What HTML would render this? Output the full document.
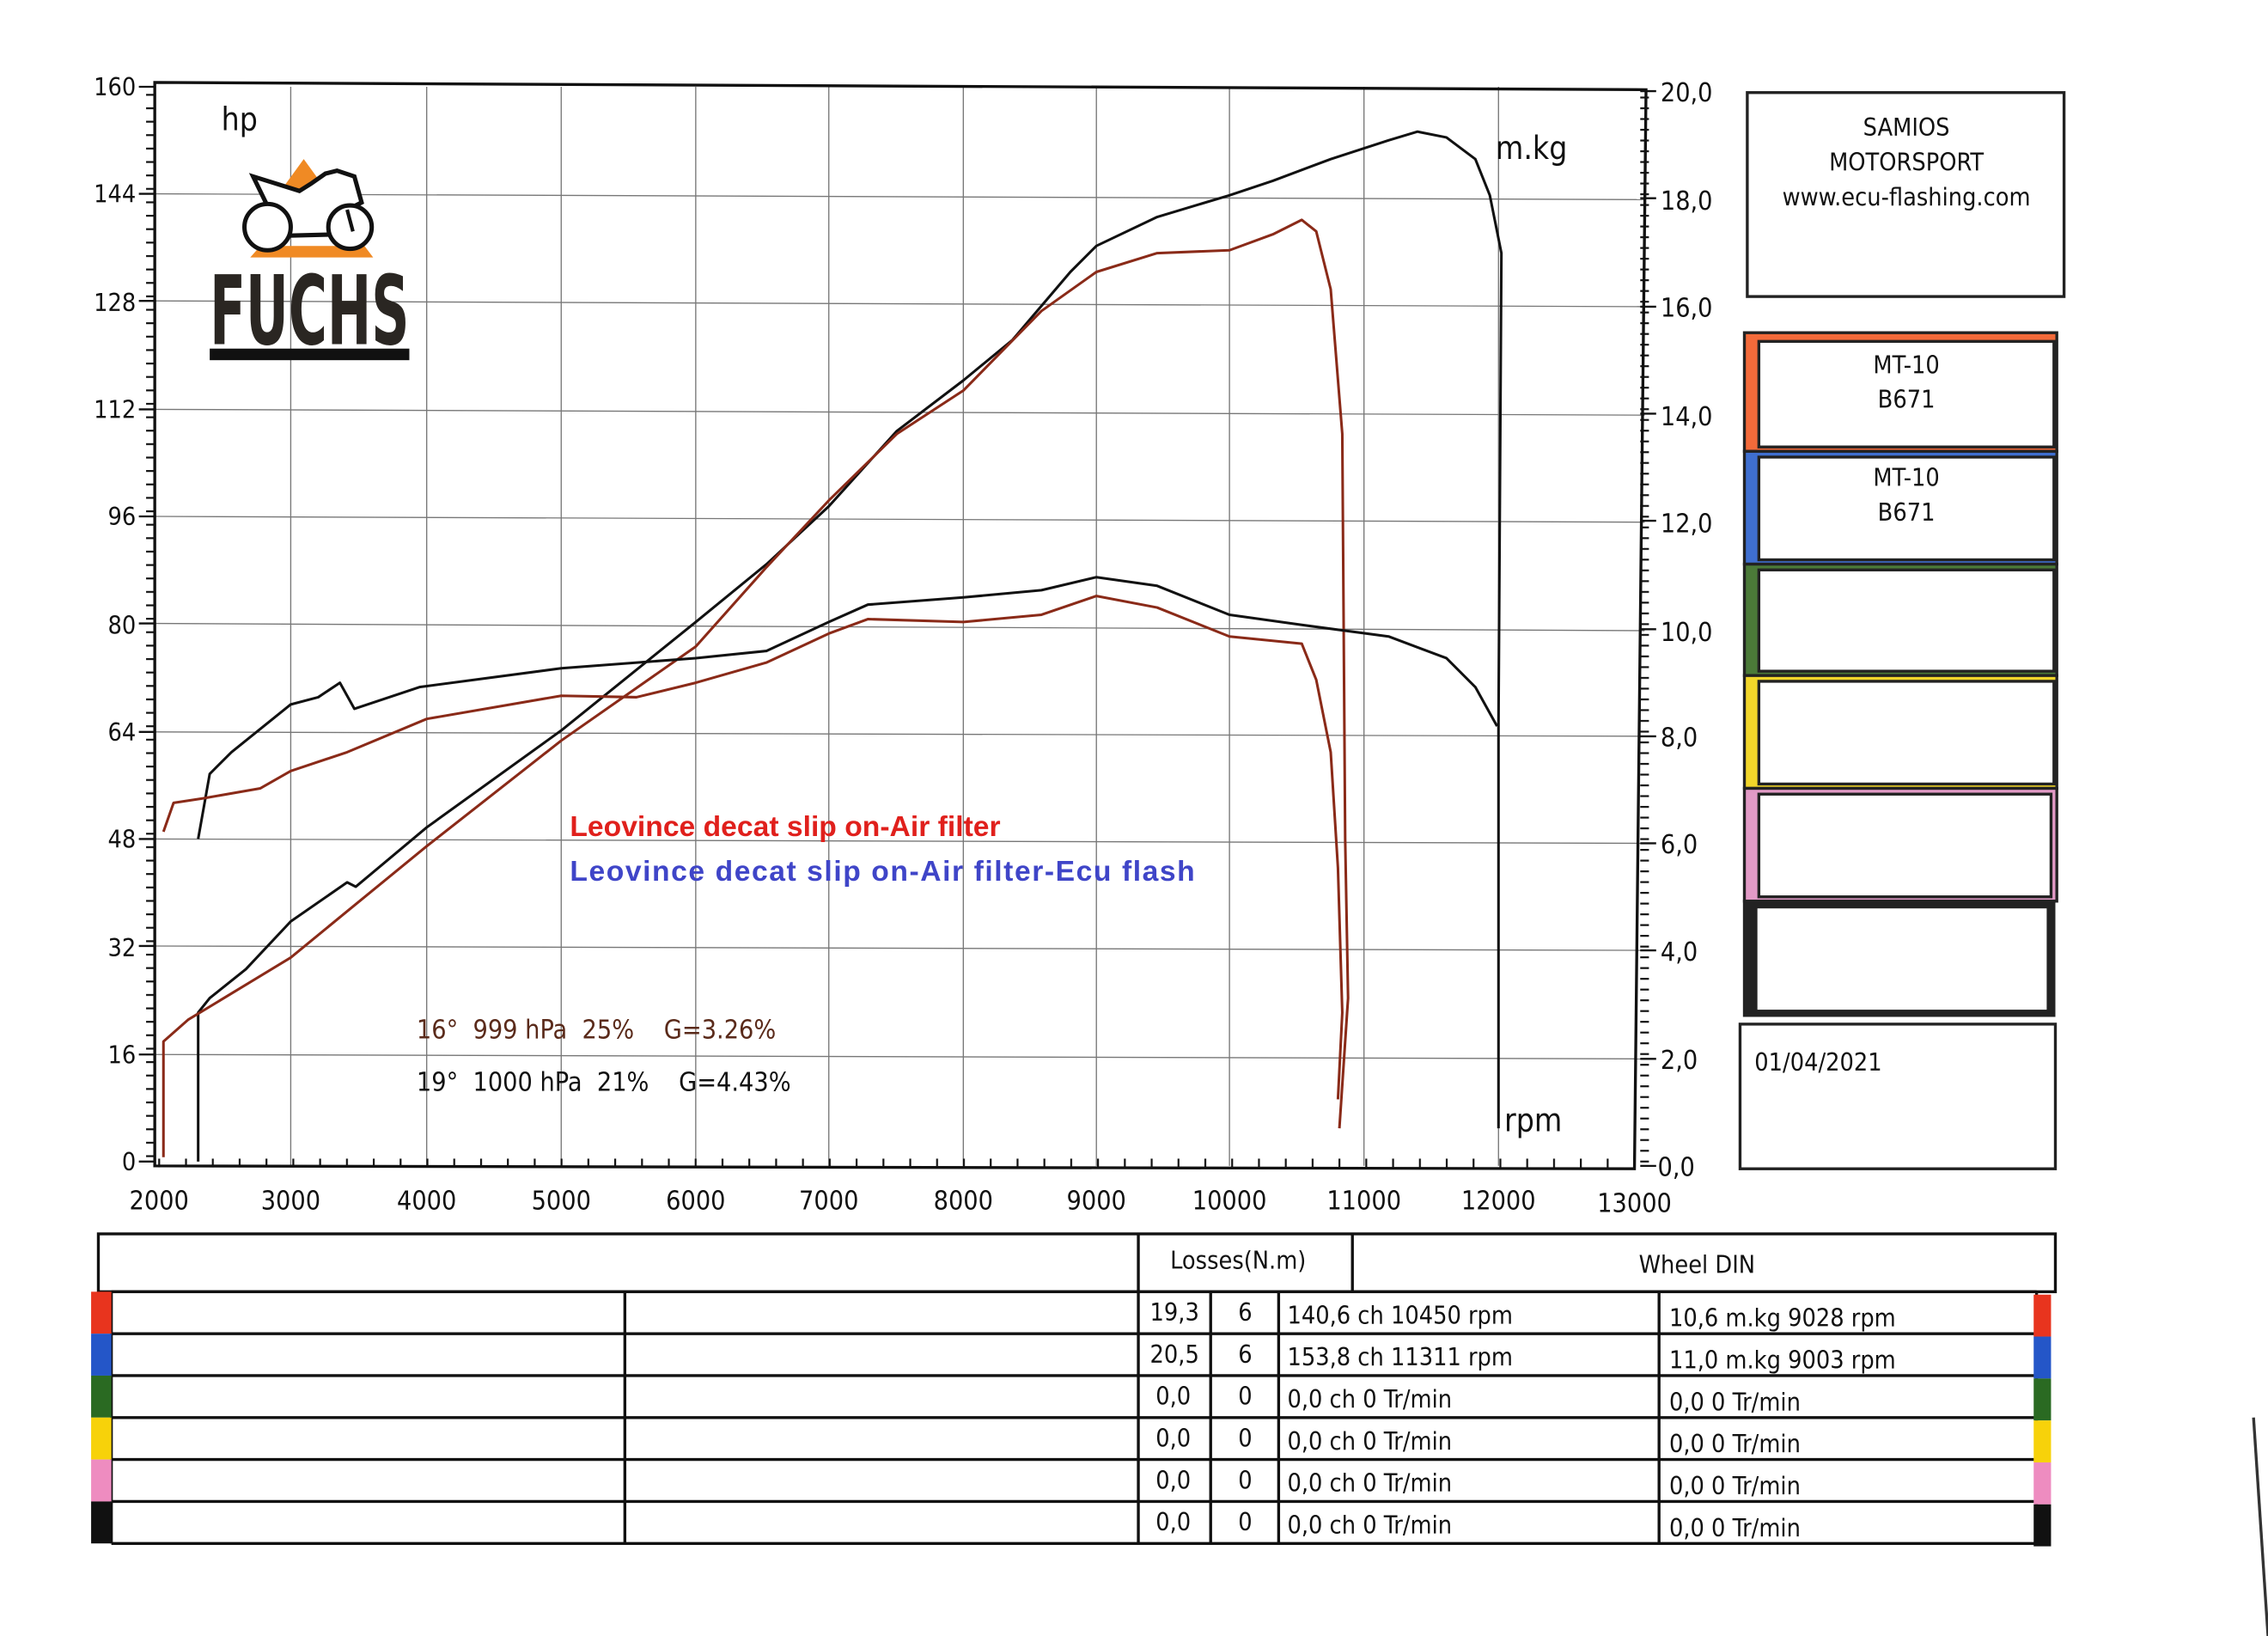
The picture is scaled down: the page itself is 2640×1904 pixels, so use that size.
<!DOCTYPE html>
<html><head><meta charset="utf-8"><style>
html,body{margin:0;padding:0;background:#fff}
svg{display:block}
text{font-family:"DejaVu Sans Condensed","Liberation Sans",sans-serif;fill:#111}
</style></head><body>
<svg width="2640" height="1904" viewBox="0 0 1568 1131" preserveAspectRatio="none" xmlns="http://www.w3.org/2000/svg">
<defs>
<pattern id="pl" x="0" y="-0.1" width="20" height="9.2875" patternUnits="userSpaceOnUse"><rect x="0" y="0" width="20" height="1.3" fill="#111"/></pattern>
<pattern id="pr" x="0" y="-0.1" width="20" height="7.43" patternUnits="userSpaceOnUse"><rect x="0" y="0" width="20" height="1.3" fill="#111"/></pattern>
<pattern id="pb" x="109.4" y="0" width="18.545" height="20" patternUnits="userSpaceOnUse"><rect x="0" y="0" width="1.3" height="20" fill="#111"/></pattern>
</defs>
<rect width="1568" height="1131" fill="#fff"/>
<!-- grid -->
<g stroke="#777" stroke-width="0.8">
<line x1="201" y1="60" x2="201" y2="806"/><line x1="295" y1="60" x2="295" y2="806"/>
<line x1="388" y1="60" x2="388" y2="806"/><line x1="481" y1="60" x2="481" y2="806"/>
<line x1="573" y1="60" x2="573" y2="806"/><line x1="666" y1="60" x2="666" y2="806"/>
<line x1="758" y1="60" x2="758" y2="806"/><line x1="850" y1="60" x2="850" y2="806"/>
<line x1="943" y1="60" x2="943" y2="806"/><line x1="1036" y1="60" x2="1036" y2="806"/>
<line x1="107" y1="134" x2="1137" y2="138"/><line x1="107" y1="208" x2="1137" y2="212"/>
<line x1="107" y1="283" x2="1137" y2="287"/><line x1="107" y1="357" x2="1137" y2="361"/>
<line x1="107" y1="431" x2="1137" y2="436"/><line x1="107" y1="506" x2="1137" y2="509"/>
<line x1="107" y1="580" x2="1137" y2="583"/><line x1="107" y1="654" x2="1137" y2="657"/>
<line x1="107" y1="729" x2="1137" y2="732"/>
</g>
<!-- ticks -->
<rect x="101" y="60" width="6" height="745" fill="url(#pl)"/>
<rect x="1134" y="63" width="6" height="745" fill="url(#pr)"/>
<rect x="109" y="801" width="1022" height="6" fill="url(#pb)"/>
<g stroke="#111" stroke-width="1.4">
<line x1="96" y1="60" x2="107" y2="60"/><line x1="96" y1="134" x2="107" y2="134"/><line x1="96" y1="208" x2="107" y2="208"/>
<line x1="96" y1="283" x2="107" y2="283"/><line x1="96" y1="357" x2="107" y2="357"/><line x1="96" y1="431" x2="107" y2="431"/>
<line x1="96" y1="506" x2="107" y2="506"/><line x1="96" y1="580" x2="107" y2="580"/><line x1="96" y1="654" x2="107" y2="654"/>
<line x1="96" y1="729" x2="107" y2="729"/><line x1="96" y1="803" x2="107" y2="803"/>
<line x1="1134" y1="63" x2="1145" y2="63"/><line x1="1134" y1="137" x2="1145" y2="137"/><line x1="1134" y1="212" x2="1145" y2="212"/>
<line x1="1134" y1="286" x2="1145" y2="286"/><line x1="1134" y1="360" x2="1145" y2="360"/><line x1="1134" y1="435" x2="1145" y2="435"/>
<line x1="1134" y1="509" x2="1145" y2="509"/><line x1="1134" y1="583" x2="1145" y2="583"/><line x1="1134" y1="657" x2="1145" y2="657"/>
<line x1="1134" y1="732" x2="1145" y2="732"/><line x1="1134" y1="806" x2="1145" y2="806"/>
</g>
<!-- frame -->
<path d="M107 57 L1138 62 L1130 808 L107 806 Z" fill="none" stroke="#111" stroke-width="2"/>
<!-- left labels -->
<g font-size="17" text-anchor="end">
<text x="94" y="66">160</text><text x="94" y="140">144</text><text x="94" y="215">128</text>
<text x="94" y="289">112</text><text x="94" y="363">96</text><text x="94" y="438">80</text>
<text x="94" y="512">64</text><text x="94" y="586">48</text><text x="94" y="661">32</text>
<text x="94" y="735">16</text><text x="94" y="809">0</text>
</g>
<g font-size="18">
<text x="1148" y="70">20,0</text><text x="1148" y="145">18,0</text><text x="1148" y="219">16,0</text>
<text x="1148" y="294">14,0</text><text x="1148" y="368">12,0</text><text x="1148" y="443">10,0</text>
<text x="1148" y="516">8,0</text><text x="1148" y="590">6,0</text><text x="1148" y="664">4,0</text>
<text x="1148" y="739">2,0</text><text x="1146" y="813">0,0</text>
</g>
<g font-size="18" text-anchor="middle">
<text x="110" y="836">2000</text><text x="201" y="836">3000</text><text x="295" y="836">4000</text>
<text x="388" y="836">5000</text><text x="481" y="836">6000</text><text x="573" y="836">7000</text>
<text x="666" y="836">8000</text><text x="758" y="836">9000</text><text x="850" y="836">10000</text>
<text x="943" y="836">11000</text><text x="1036" y="836">12000</text><text x="1130" y="838">13000</text>
</g>
<text x="153" y="90" font-size="22">hp</text>
<text x="1034" y="110" font-size="22">m.kg</text>
<text x="1040" y="782" font-size="22">rpm</text>
<!-- logo -->
<polygon points="210,110 226,132 194,132" fill="#f08a24"/>
<polygon points="173,178 258,178 252,170 180,170" fill="#f08a24"/>
<path d="M175 122 L207 132 L215 127 L225 120 L233 118 L245 122 L250 140 L240 145 L235 162 L195 163 Z" fill="#fff" stroke="#111" stroke-width="3"/>
<circle cx="185" cy="157" r="16" fill="#fff" stroke="#111" stroke-width="3"/>
<circle cx="242" cy="157" r="15" fill="#fff" stroke="#111" stroke-width="3"/>
<line x1="240" y1="145" x2="244" y2="160" stroke="#111" stroke-width="2.5"/>
<text x="214" y="238" font-size="66" font-weight="bold" text-anchor="middle" textLength="138" lengthAdjust="spacingAndGlyphs" style="fill:#2a2622;font-family:'DejaVu Sans Condensed','Liberation Sans Narrow',sans-serif">FUCHS</text>
<rect x="145" y="241" width="138" height="8" fill="#111"/>
<!-- curves -->
<g fill="none" stroke-width="1.8" stroke-linejoin="round">
<polyline stroke="#111" points="137,803 137,700 145,690 170,670 201,637 240,610 246,613 295,572 388,505 481,430 530,390 573,350 620,298 666,263 700,235 740,188 758,170 800,150 850,135 880,125 920,110 960,97 980,91 1000,95 1020,110 1030,135 1038,175 1036,500 1036,780"/>
<polyline stroke="#8a2a18" points="113,800 113,720 130,705 201,662 240,630 295,585 388,512 481,447 530,392 573,346 620,300 666,270 720,215 758,188 800,175 850,173 880,162 900,152 910,160 920,200 928,300 930,580 932,690 926,780"/>
<polyline stroke="#111" points="137,580 145,535 160,520 201,487 220,482 235,472 245,490 290,475 388,462 481,455 530,450 573,430 600,418 666,413 720,408 758,399 800,405 850,425 900,432 960,440 1000,455 1020,475 1035,502"/>
<polyline stroke="#8a2a18" points="113,575 120,555 140,552 180,545 201,533 240,520 295,497 388,481 440,482 481,472 530,458 573,438 600,428 666,430 720,425 758,412 800,420 850,440 900,445 910,470 920,520 925,600 928,700 925,760"/>
</g>
<text x="394" y="578" font-size="20" font-weight="bold" style="fill:#e0201c;font-family:'Liberation Sans',sans-serif">Leovince decat slip on-Air filter</text>
<text x="394" y="609" font-size="20" font-weight="bold" textLength="432" style="fill:#3f45c8;font-family:'Liberation Sans',sans-serif">Leovince decat slip on-Air filter-Ecu flash</text>
<text x="288" y="718" font-size="18" xml:space="preserve" style="fill:#5a2a1a">16°  999 hPa  25%    G=3.26%</text>
<text x="288" y="754" font-size="18" xml:space="preserve">19°  1000 hPa  21%    G=4.43%</text>
<!-- right boxes -->
<rect x="1208" y="64" width="219" height="141" fill="none" stroke="#222" stroke-width="2"/>
<g font-size="17" text-anchor="middle"><text x="1318" y="94">SAMIOS</text><text x="1318" y="118">MOTORSPORT</text><text x="1318" y="142">www.ecu-flashing.com</text></g>
<g stroke="#222" stroke-width="2">
<rect x="1206" y="230" width="216" height="82" fill="#f36a3a"/><rect x="1216" y="236" width="204" height="73" fill="#fff"/>
<rect x="1206" y="312" width="216" height="78" fill="#3f6fd0"/><rect x="1216" y="316" width="204" height="71" fill="#fff"/>
<rect x="1206" y="390" width="216" height="77" fill="#4b7a38"/><rect x="1216" y="394" width="204" height="70" fill="#fff"/>
<rect x="1206" y="467" width="216" height="78" fill="#f2d62a"/><rect x="1216" y="471" width="204" height="71" fill="#fff"/>
<rect x="1206" y="545" width="216" height="78" fill="#e29ac6"/><rect x="1216" y="549" width="202" height="71" fill="#fff"/>
<rect x="1206" y="623" width="214" height="79" fill="#222"/><rect x="1214" y="627" width="202" height="72" fill="#fff"/>
</g>
<g font-size="17" text-anchor="middle"><text x="1318" y="258">MT-10</text><text x="1318" y="282">B671</text><text x="1318" y="336">MT-10</text><text x="1318" y="360">B671</text></g>
<rect x="1203" y="708" width="218" height="100" fill="none" stroke="#222" stroke-width="2"/>
<text x="1213" y="740" font-size="17">01/04/2021</text>
<!-- table -->
<g stroke="#111" stroke-width="2" fill="none">
<rect x="68" y="853" width="1353" height="40"/>
<line x1="787" y1="853" x2="787" y2="1068"/><line x1="935" y1="853" x2="935" y2="893"/>
<line x1="77" y1="893" x2="1408" y2="893"/>
<line x1="77" y1="922" x2="1408" y2="922"/><line x1="77" y1="951" x2="1408" y2="951"/>
<line x1="77" y1="980" x2="1408" y2="980"/><line x1="77" y1="1009" x2="1408" y2="1009"/>
<line x1="77" y1="1038" x2="1408" y2="1038"/><line x1="77" y1="1067" x2="1408" y2="1067"/>
<line x1="77" y1="893" x2="77" y2="1067"/><line x1="432" y1="893" x2="432" y2="1067"/>
<line x1="837" y1="893" x2="837" y2="1067"/><line x1="884" y1="893" x2="884" y2="1067"/>
<line x1="1147" y1="893" x2="1147" y2="1067"/><line x1="1408" y1="893" x2="1408" y2="1067"/>
</g>
<g>
<rect x="63" y="893" width="14" height="29" fill="#e8341e"/><rect x="63" y="922" width="14" height="29" fill="#2456c8"/>
<rect x="63" y="951" width="14" height="29" fill="#2a6a22"/><rect x="63" y="980" width="14" height="29" fill="#f7d20a"/>
<rect x="63" y="1009" width="14" height="29" fill="#ee8cc0"/><rect x="63" y="1038" width="14" height="29" fill="#111"/>
<rect x="1406" y="895" width="12" height="29" fill="#e8341e"/><rect x="1406" y="924" width="12" height="29" fill="#2456c8"/>
<rect x="1406" y="953" width="12" height="29" fill="#2a6a22"/><rect x="1406" y="982" width="12" height="29" fill="#f7d20a"/>
<rect x="1406" y="1011" width="12" height="29" fill="#ee8cc0"/><rect x="1406" y="1040" width="12" height="29" fill="#111"/>
</g>
<g font-size="17" xml:space="preserve">
<text x="809" y="877">Losses(N.m)</text><text x="1133" y="880">Wheel DIN</text>
<text x="795" y="913">19,3</text><text x="856" y="913">6</text><text x="890" y="915">140,6 ch 10450 rpm</text><text x="1154" y="917">10,6 m.kg 9028 rpm</text>
<text x="795" y="942">20,5</text><text x="856" y="942">6</text><text x="890" y="944">153,8 ch 11311 rpm</text><text x="1154" y="946">11,0 m.kg 9003 rpm</text>
<text x="799" y="971">0,0</text><text x="856" y="971">0</text><text x="890" y="973">0,0 ch 0 Tr/min</text><text x="1154" y="975">0,0  0 Tr/min</text>
<text x="799" y="1000">0,0</text><text x="856" y="1000">0</text><text x="890" y="1002">0,0 ch 0 Tr/min</text><text x="1154" y="1004">0,0  0 Tr/min</text>
<text x="799" y="1029">0,0</text><text x="856" y="1029">0</text><text x="890" y="1031">0,0 ch 0 Tr/min</text><text x="1154" y="1033">0,0  0 Tr/min</text>
<text x="799" y="1058">0,0</text><text x="856" y="1058">0</text><text x="890" y="1060">0,0 ch 0 Tr/min</text><text x="1154" y="1062">0,0  0 Tr/min</text>
</g>
<line x1="1558" y1="980" x2="1568" y2="1131" stroke="#333" stroke-width="2"/>
</svg>
</body></html>
